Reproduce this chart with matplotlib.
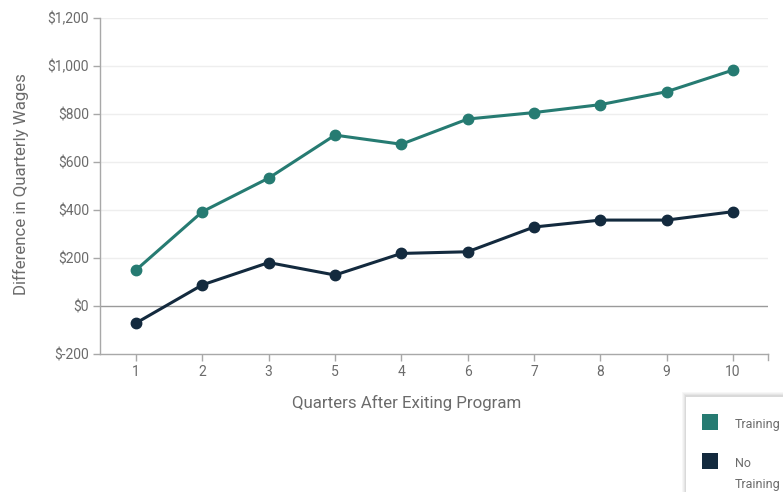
import matplotlib
matplotlib.use('Agg')
import matplotlib.pyplot as plt
from matplotlib.patches import Rectangle
import numpy as np

plt.rcParams['font.family'] = ['Roboto', 'DejaVu Sans']

# quarters as categories (order kept as reported)
quarters = ['1', '2', '3', '5', '4', '6', '7', '8', '9', '10']
training = [150, 393, 533, 712, 674, 779, 806, 839, 893, 983]
no_training = [-71, 88, 181, 129, 219, 226, 329, 358, 358, 393]
series_names = ['Training', 'No\nTraining']
series_colors = ['#267b72', '#132a3e']
y_ticks = [-200, 0, 200, 400, 600, 800, 1000, 1200]

text_gray = '#6b6b6b'
axis_gray = '#a8a8a8'

fig = plt.figure(figsize=(7.83, 4.92), dpi=100)
W, H = 783, 492
ax = fig.add_axes([100 / W, 1 - 354 / H, 668 / W, 336 / H])

x = np.arange(len(quarters))
for vals, col in zip([training, no_training], series_colors):
    ax.plot(x, vals, color=col, lw=2.2, marker='o', ms=7.5, zorder=3,
            solid_capstyle='round')

ax.set_xlim(-0.543, len(quarters) - 1 + 0.528)
ax.set_ylim(-200, 1200)
ax.set_xticks(x)
ax.set_xticklabels(quarters)
ax.set_yticks(y_ticks)
ax.set_yticklabels(['$' + format(v, ',') for v in y_ticks])

# light horizontal grid, darker zero line
for v in y_ticks:
    if v in (-200, 0):
        continue
    ax.axhline(v, color='#eeeeee', lw=1, zorder=0)
ax.axhline(0, color='#9a9a9a', lw=1, zorder=1)

for s in ['top', 'right']:
    ax.spines[s].set_visible(False)
for s in ['left', 'bottom']:
    ax.spines[s].set_color(axis_gray)
    ax.spines[s].set_linewidth(1)

ax.tick_params(axis='both', colors=axis_gray, labelcolor=text_gray,
               labelsize=10, length=5, width=1)
ax.tick_params(axis='x', pad=3)
ax.tick_params(axis='y', pad=3)

# tick at the right end of the x axis
ax.plot([1, 1], [0, -0.018], transform=ax.transAxes, color=axis_gray,
        lw=1, clip_on=False)

fig.text(407 / W, 1 - 403 / H, 'Quarters After Exiting Program',
         fontsize=12.2, color=text_gray, ha='center', va='center')
fig.text(21 / W, 1 - 184 / H, 'Difference in Quarterly Wages', rotation=90,
         fontsize=12.2, color=text_gray, ha='center', va='center')

# legend panel with a soft shadow at the lower right
for i, a in enumerate([0.03, 0.03, 0.04, 0.05]):
    off = 4 - i
    fig.patches.append(Rectangle(((686 - off) / W, 0), (110 + off) / W,
                                 (96 + off) / H, transform=fig.transFigure,
                                 facecolor='black', alpha=a, lw=0))
fig.patches.append(Rectangle((686 / W, 0), 110 / W, 95 / H,
                             transform=fig.transFigure, facecolor='white',
                             lw=0))
leg_y = [422, 461]
for name, col, yy in zip(series_names, series_colors, leg_y):
    fig.patches.append(Rectangle((702 / W, 1 - (yy + 8) / H), 16 / W, 16 / H,
                                 transform=fig.transFigure, facecolor=col,
                                 lw=0))
    fig.text(735 / W, 1 - (yy - 4) / H, name, fontsize=9, color=text_gray,
             va='top', ha='left', linespacing=1.8)

fig.savefig('out.png', dpi=100)
